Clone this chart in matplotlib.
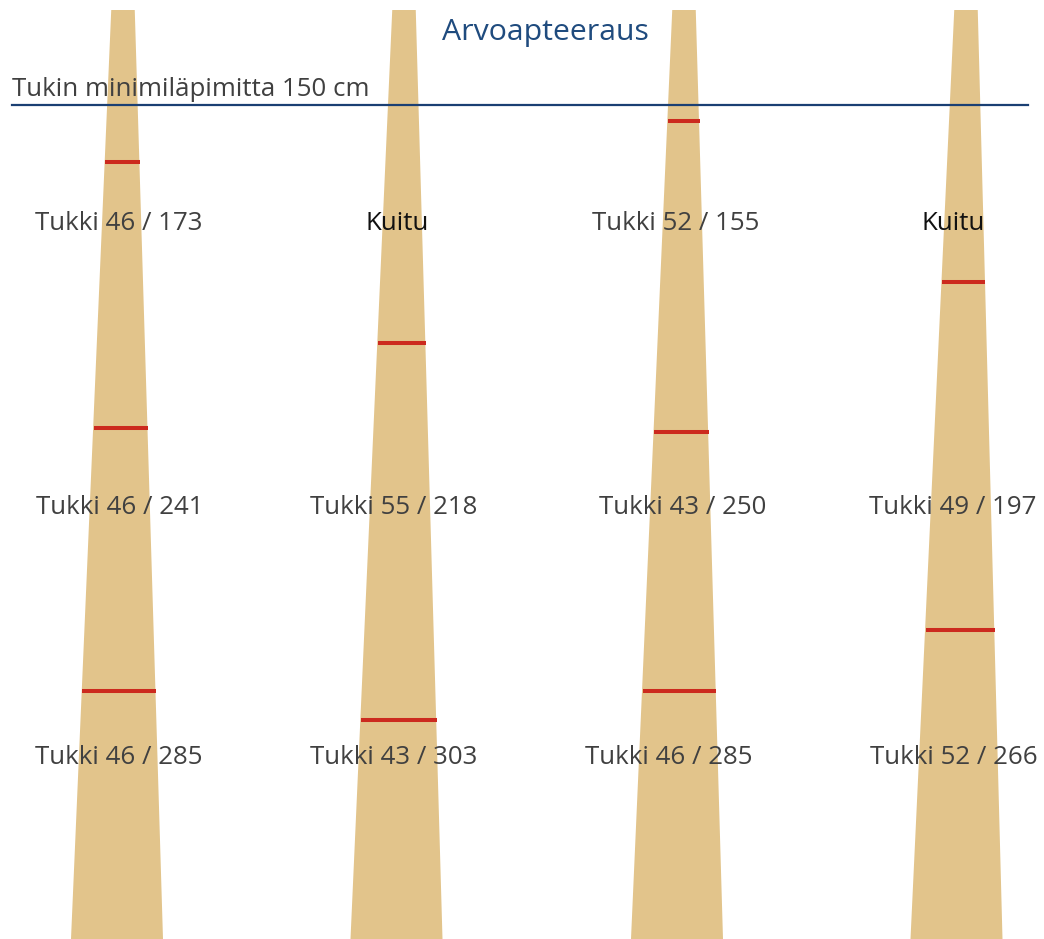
import matplotlib
matplotlib.use("Agg")
import matplotlib.pyplot as plt
from matplotlib.patches import Polygon

plt.rcParams["font.family"] = ["Open Sans", "DejaVu Sans"]

# Puut (pikselikoordinaatit, y alaspäin)
top_centers = [123, 404, 684, 966]
bottom_centers = [117, 396.5, 677, 956.5]
# katkaisukohdat (korkeus kuvassa, y alaspäin)
cuts = [
    [162, 428, 691],
    [343, 720],
    [121, 432, 691],
    [282, 630],
]
# tekstit ylhäältä alas
labels = [
    ["Tukki 46 / 173", "Tukki 46 / 241", "Tukki 46 / 285"],
    ["Kuitu", "Tukki 55 / 218", "Tukki 43 / 303"],
    ["Tukki 52 / 155", "Tukki 43 / 250", "Tukki 46 / 285"],
    ["Kuitu", "Tukki 49 / 197", "Tukki 52 / 266"],
]
label_x = [
    [119, 120, 119],
    [397, 394, 394],
    [676, 683, 669],
    [953, 953, 954],
]
label_base = [229.5, 514.5, 764.5]

W, H = 1044, 939
TOP, BOTTOM = 10, 939
TOP_W, BOTTOM_W = 23.5, 92

fig = plt.figure(figsize=(W / 100, H / 100), dpi=100)
ax = fig.add_axes([0, 0, 1, 1])
ax.set_xlim(0, W)
ax.set_ylim(H, 0)
ax.axis("off")

trunk_col = "#e2c48b"
red = "#cc2a1e"
blue = "#1a3f73"


def edges(i, y):
    t = (y - TOP) / (BOTTOM - TOP)
    c = top_centers[i] + (bottom_centers[i] - top_centers[i]) * t
    w = TOP_W + (BOTTOM_W - TOP_W) * t
    return c - w / 2, c + w / 2


for i in range(4):
    tl, tr = edges(i, TOP)
    bl, br = edges(i, BOTTOM + 5)
    ax.add_patch(Polygon([(tl, TOP), (tr, TOP), (br, BOTTOM + 5), (bl, BOTTOM + 5)],
                         closed=True, facecolor=trunk_col, edgecolor="none", zorder=1))
    for y in cuts[i]:
        l, r = edges(i, y)
        ax.plot([l + 0.5, r + 0.5], [y, y], color=red, lw=2.9, solid_capstyle="butt", zorder=2)
    for j, txt in enumerate(labels[i]):
        col = "#111111" if txt == "Kuitu" else "#404040"
        ax.text(label_x[i][j], label_base[j], txt, ha="center", va="baseline",
                fontsize=18.6, color=col, zorder=3)

# minimiläpimitta-viiva
ax.plot([12, 1028], [105, 105], color=blue, lw=1.6, zorder=3)
ax.text(12, 96, "Tukin minimiläpimitta 150 cm", ha="left", va="baseline",
        fontsize=18.6, color="#404040", zorder=3)

ax.text(545, 40, "Arvoapteeraus", ha="center", va="baseline",
        fontsize=21.8, color="#1f4b7e", zorder=3)

fig.savefig("out.png", dpi=100, facecolor="white")
